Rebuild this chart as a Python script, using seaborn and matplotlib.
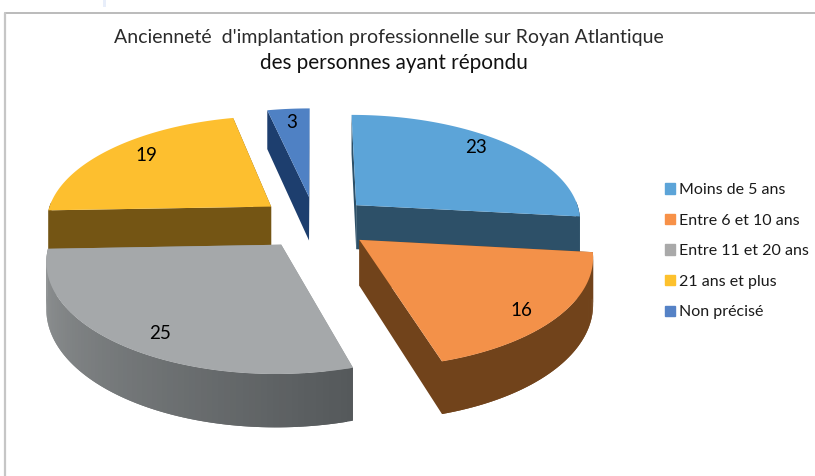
import numpy as np
import matplotlib.pyplot as plt
from matplotlib.patches import Patch
from matplotlib.colors import to_rgb
import seaborn as sns

# valeurs
categories = ['Moins de 5 ans', 'Entre 6 et 10 ans', 'Entre 11 et 20 ans', '21 ans et plus', 'Non précisé']
values = [23, 16, 25, 19, 3]

top_colors = ['#5ca4d8', '#f39149', '#a5a8aa', '#fdbf2f', '#4f81c4']
wall_start = ['#2d5068', '#71431b', '#929596', '#745514', '#1d3e6e']
wall_end = ['#2d5068', '#71431b', '#55595b', '#745514', '#1d3e6e']
legend_colors = ['#5ca4d8', '#f79148', '#a9a9a9', '#fdc12d', '#5582c6']
label_rx = [0.80, 0.82, 0.79, 0.78, 0.83]
label_ry = [0.91, 0.92, 0.88, 0.88, 0.83]
draw_order = [4, 3, 0, 2, 1]

# parametres de la projection (pixels)
cx, cy = 315, 222.5
rad, squash = 226, 0.47
height = 45
persp = 0.13
explode = 0.25

sns.set_theme(style='white')
plt.rcParams['font.family'] = ['Lato', 'DejaVu Sans']


def project(x, y, z=0.0):
    p = 1 / (1 + persp * y)
    return cx + rad * x * p, cy - rad * squash * y * p + height * z * p


angles = np.concatenate(([0], np.cumsum(values))) / np.sum(values) * 2 * np.pi

fig = plt.figure(figsize=(8.15, 4.76), dpi=100)
ax = fig.add_axes([0, 0, 1, 1])
ax.set_xlim(0, 815)
ax.set_ylim(476, 0)
ax.axis('off')

# cadre
ax.plot([5, 815], [12.5, 12.5], color='#a8a8a8', lw=1.1)
ax.plot([5, 5], [12.5, 476], color='#c6c6c6', lw=1.6)
ax.fill_between([103, 106], 0, 7, color='#e8eefa', lw=0)

for i in draw_order:
    t0, t1 = angles[i], angles[i + 1]
    mid = (t0 + t1) / 2
    ox, oy = explode * np.sin(mid), explode * np.cos(mid)
    th = np.linspace(t0, t1, 80)
    xs = ox + np.sin(th)
    ys = oy + np.cos(th)

    # parois radiales
    for t in (t0, t1):
        ex, ey = ox + np.sin(t), oy + np.cos(t)
        a = project(ox, oy)
        b = project(ex, ey)
        c = project(ex, ey, 1)
        d = project(ox, oy, 1)
        ax.fill([a[0], b[0], c[0], d[0]], [a[1], b[1], c[1], d[1]],
                color=wall_start[i], lw=0, zorder=2)

    # paroi exterieure, chaque bande recouvre un peu la suivante
    c0, c1 = np.array(to_rgb(wall_start[i])), np.array(to_rgb(wall_end[i]))
    for j in range(len(th) - 1):
        if np.cos(th[j]) > 0.02 and np.cos(th[j + 1]) > 0.02:
            continue
        f = 1 - j / (len(th) - 2)
        col = c0 + (c1 - c0) * f
        k = min(j + 3, len(th))
        tx, ty = project(xs[j:k], ys[j:k])
        bx, by = project(xs[j:k], ys[j:k], 1)
        ax.fill(np.r_[tx, bx[::-1]], np.r_[ty, by[::-1]], color=col, lw=0, zorder=2)

    # dessus
    px, py = project(np.r_[ox, xs], np.r_[oy, ys])
    ax.fill(px, py, color=top_colors[i], lw=0, zorder=2)

    lx, ly = project(ox + label_rx[i] * np.sin(mid), oy + label_ry[i] * np.cos(mid))
    ax.text(lx, ly, str(values[i]), ha='center', va='center', fontsize=13.5, color='black', zorder=3)

ax.text(389, 43, "Ancienneté  d'implantation professionnelle sur Royan Atlantique",
        ha='center', va='baseline', fontsize=14.05, color='#2b2b2b')
ax.text(393.5, 69, 'des personnes ayant répondu', ha='center', va='baseline', fontsize=14.9, color='#111111')

handles = [Patch(color=c, label=n) for c, n in zip(legend_colors, categories)]
leg = ax.legend(handles=handles, loc='upper left', bbox_to_anchor=(665, 183), bbox_transform=ax.transData,
                frameon=False, fontsize=11.5, handlelength=0.63, handleheight=0.63, handletextpad=0.25,
                labelspacing=1.04, borderpad=0, borderaxespad=0, labelcolor='#1a1a1a')

fig.savefig('out.png', dpi=100)
